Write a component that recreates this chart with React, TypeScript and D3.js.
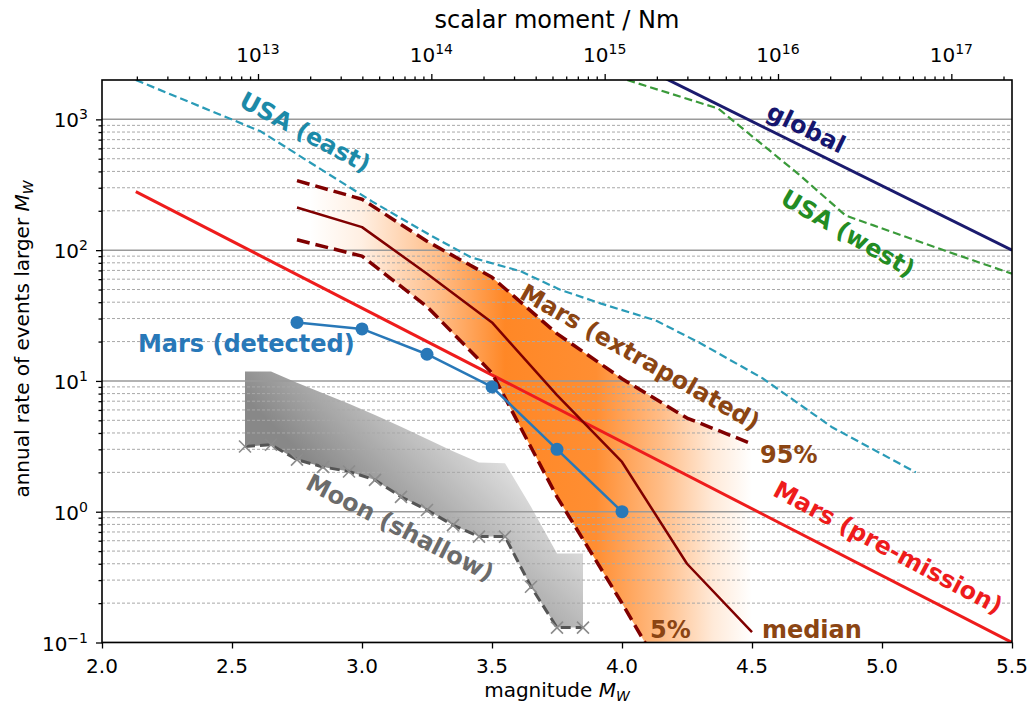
import React, { useEffect, useRef } from 'react';
import * as d3 from 'd3';

// Mars extrapolation (median and 5 / 95 % bounds)
const marsMags = [2.75, 3.0, 3.25, 3.5, 3.75, 4.0, 4.25, 4.5];
const marsMedian = [212, 150, 66, 28, 7.8, 2.4, 0.4, 0.12];
const mars95 = [340, 245, 117, 62, 23, 10.4, 5.2, 3.3];
const mars5 = [120, 90, 37, 11.5, 1.3, 0.2, 0.028, 0.0036];

// detected Mars events
const detectedMags = [2.75, 3.0, 3.25, 3.5, 3.75, 4.0];
const detectedRates = [28, 25, 16, 9, 3, 1];

// pre-mission estimate
const premissionMags = [2.13, 5.5];
const premissionRates = [280, 0.1];

// Earth
const globalMags = [4.0, 5.5];
const globalRates = [3000, 100];
const usaEastMags = [2.13, 2.61, 3.04, 3.26, 3.42, 3.61, 3.76, 3.92, 4.13, 4.3, 4.54, 4.81, 5.13];
const usaEastRates = [2000, 810, 235, 131, 88, 69, 50, 39, 29, 19.5, 10.5, 4.4, 2.0];
const usaWestMags = [4.02, 4.37, 4.52, 4.68, 4.86, 4.97, 5.23, 5.5];
const usaWestRates = [2000, 1210, 690, 380, 184, 154, 101, 66];

// Moon (shallow)
const moonMags = [2.55, 2.65, 2.75, 2.85, 2.95, 3.05, 3.15, 3.25, 3.35, 3.45, 3.55, 3.65, 3.75, 3.85];
const moonRates = [3.15, 3.25, 2.5, 2.2, 2.03, 1.75, 1.3, 1.03, 0.79, 0.645, 0.645, 0.267, 0.13, 0.13];
const moonUpper = [11.8, 11.8, 9.7, 8.05, 6.7, 5.5, 4.47, 3.6, 2.9, 2.38, 2.35, 1.09, 0.48, 0.48];

// axes
const xTicks = [2.0, 2.5, 3.0, 3.5, 4.0, 4.5, 5.0, 5.5];
const yMajor = [0.1, 1, 10, 100, 1000];
const yExponents = ['\u22121', '0', '1', '2', '3'];
const topExponents = [13, 14, 15, 16, 17];

const W = 1029;
const H = 706;
const FONT = 'DejaVu Sans';

export default function App() {
  const ref = useRef<SVGSVGElement>(null);

  useEffect(() => {
    const svg = d3.select(ref.current);
    svg.selectAll('*').remove();

    const left = 102, right = 1012, top = 80, bottom = 642.5;

    const x = d3.scaleLinear().domain([2, 5.5]).range([left, right]);
    const y = d3.scaleLog().domain([0.1, 2000]).range([bottom, top]);
    // scalar moment M0 = 10^(1.5 Mw + 9.1)
    const m0 = (mw: number) => Math.pow(10, 1.5 * mw + 9.1);
    const xTop = d3.scaleLog().domain([m0(2), m0(5.5)]).range([left, right]);

    const defs = svg.append('defs');
    defs.append('clipPath').attr('id', 'plot')
      .append('rect').attr('x', left).attr('y', top)
      .attr('width', right - left).attr('height', bottom - top);

    // orange gradient for the extrapolation band
    const og = defs.append('linearGradient').attr('id', 'orange')
      .attr('gradientUnits', 'userSpaceOnUse')
      .attr('x1', x(2.75)).attr('x2', x(4.5)).attr('y1', 0).attr('y2', 0);
    const oStops: [number, number][] = [
      [2.8, 0], [3.0, 0.12], [3.3, 0.5], [3.55, 0.9], [3.9, 0.85],
      [4.15, 0.5], [4.35, 0.16], [4.5, 0],
    ];
    oStops.forEach(([m, o]) => {
      og.append('stop').attr('offset', (m - 2.75) / 1.75)
        .attr('stop-color', '#ff7a0e').attr('stop-opacity', o);
    });

    const gg = defs.append('linearGradient').attr('id', 'grey')
      .attr('gradientUnits', 'userSpaceOnUse')
      .attr('x1', x(2.75)).attr('y1', y(0.43))
      .attr('x2', x(3.45)).attr('y2', y(10));
    gg.append('stop').attr('offset', 0.3).attr('stop-color', '#888888');
    gg.append('stop').attr('offset', 0.95).attr('stop-color', '#eeeeee');

    const plot = svg.append('g').attr('clip-path', 'url(#plot)');

    // fills
    const moonArea = d3.area<number>()
      .x((d, i) => x(moonMags[i]))
      .y0(d => y(d))
      .y1((d, i) => y(moonUpper[i]));
    plot.append('path').attr('d', moonArea(moonRates)).attr('fill', 'url(#grey)');

    const band = d3.area<number>()
      .x((d, i) => x(marsMags[i]))
      .y0(d => y(d))
      .y1((d, i) => y(mars95[i]));
    plot.append('path').attr('d', band(mars5)).attr('fill', 'url(#orange)');

    // horizontal grid
    const minor: number[] = [];
    for (let e = -1; e <= 3; e++) {
      for (let k = 2; k <= 9; k++) {
        const v = k * Math.pow(10, e);
        if (v < 2000) minor.push(v);
      }
    }
    plot.selectAll('.gmin').data(minor).enter().append('line')
      .attr('x1', left).attr('x2', right)
      .attr('y1', d => y(d)).attr('y2', d => y(d))
      .attr('stroke', '#a8a8a8').attr('stroke-width', 1)
      .attr('stroke-dasharray', '3,2');
    plot.selectAll('.gmaj').data(yMajor).enter().append('line')
      .attr('x1', left).attr('x2', right)
      .attr('y1', d => y(d)).attr('y2', d => y(d))
      .attr('stroke', '#9a9a9a').attr('stroke-width', 1.5);

    const line = (mags: number[]) => d3.line<number>()
      .x((d, i) => x(mags[i]))
      .y(d => y(d));

    const addLine = (mags: number[], vals: number[], color: string, width: number, dash?: string) => {
      const p = plot.append('path').attr('d', line(mags)(vals))
        .attr('fill', 'none').attr('stroke', color).attr('stroke-width', width)
        .attr('stroke-linejoin', 'round');
      if (dash) p.attr('stroke-dasharray', dash);
      return p;
    };

    addLine(usaEastMags, usaEastRates, '#2a9bb7', 2.2, '8,4');
    addLine(usaWestMags, usaWestRates, '#3a9a3a', 2.2, '8,4');
    addLine(globalMags, globalRates, '#1b1b6e', 3);
    addLine(premissionMags, premissionRates, '#ee1c1c', 3);
    addLine(marsMags, marsMedian, '#800000', 2.5);
    addLine(marsMags, mars95, '#800000', 3.5, '13,6');
    addLine(marsMags, mars5, '#800000', 3.5, '13,6');

    // moon lower line with x markers
    addLine(moonMags, moonRates, '#555555', 3, '10,5');
    const mk = plot.selectAll('.mk').data(moonRates).enter().append('g')
      .attr('transform', (d, i) => `translate(${x(moonMags[i])},${y(d)})`);
    mk.append('path').attr('d', 'M-6,-6L6,6M-6,6L6,-6')
      .attr('stroke', '#8c8c8c').attr('stroke-width', 1.6);

    addLine(detectedMags, detectedRates, '#2878b8', 2.5);
    plot.selectAll('.det').data(detectedRates).enter().append('circle')
      .attr('cx', (d, i) => x(detectedMags[i])).attr('cy', d => y(d))
      .attr('r', 6.5).attr('fill', '#2878b8');

    // frame
    svg.append('rect').attr('x', left).attr('y', top)
      .attr('width', right - left).attr('height', bottom - top)
      .attr('fill', 'none').attr('stroke', '#000').attr('stroke-width', 1.6);

    // bottom axis
    const xAxisGroup = svg.append('g').attr('transform', `translate(0,${bottom})`);
    xAxisGroup.call(d3.axisBottom(x).tickValues(xTicks).tickSize(6).tickFormat(() => ''));
    xAxisGroup.select('.domain').remove();
    svg.selectAll('.xlab').data(xTicks).enter().append('text')
      .attr('x', d => x(d)).attr('y', bottom + 30.5)
      .attr('text-anchor', 'middle').attr('font-family', FONT).attr('font-size', 20)
      .text(d => d3.format('.1f')(d));

    // left axis
    const yAxisGroup = svg.append('g').attr('transform', `translate(${left},0)`);
    yAxisGroup.call(d3.axisLeft(y).tickValues(yMajor).tickSize(6).tickFormat(() => ''));
    yAxisGroup.select('.domain').remove();
    const yMinorGroup = svg.append('g').attr('transform', `translate(${left},0)`);
    yMinorGroup.call(d3.axisLeft(y).tickValues(minor).tickSize(3.5).tickFormat(() => ''));
    yMinorGroup.select('.domain').remove();

    const ylab = svg.selectAll('.ylab').data(yMajor).enter().append('text')
      .attr('x', left - 14).attr('y', d => y(d) + 8)
      .attr('text-anchor', 'end').attr('font-family', FONT).attr('font-size', 20);
    ylab.append('tspan').text('10');
    ylab.append('tspan').attr('dy', -8).attr('font-size', 14).text((d, i) => yExponents[i]);

    // top axis (scalar moment)
    const topMajor = topExponents.map(e => Math.pow(10, e));
    const topMinor: number[] = [];
    for (let e = 12; e <= 17; e++) {
      for (let k = 2; k <= 9; k++) {
        const v = k * Math.pow(10, e);
        if (v >= m0(2) && v <= m0(5.5)) topMinor.push(v);
      }
    }
    const topGroup = svg.append('g').attr('transform', `translate(0,${top})`);
    topGroup.call(d3.axisTop(xTop).tickValues(topMajor).tickSize(6).tickFormat(() => ''));
    topGroup.select('.domain').remove();
    const topMinorGroup = svg.append('g').attr('transform', `translate(0,${top})`);
    topMinorGroup.call(d3.axisTop(xTop).tickValues(topMinor).tickSize(3.5).tickFormat(() => ''));
    topMinorGroup.select('.domain').remove();
    svg.selectAll('.tick line').attr('stroke-width', 1.3);

    const tlab = svg.selectAll('.tlab').data(topMajor).enter().append('text')
      .attr('x', d => xTop(d)).attr('y', top - 18.5)
      .attr('text-anchor', 'middle').attr('font-family', FONT).attr('font-size', 20);
    tlab.append('tspan').text('10');
    tlab.append('tspan').attr('dy', -8).attr('font-size', 14).text((d, i) => String(topExponents[i]));

    // axis titles
    svg.append('text').attr('x', (left + right) / 2).attr('y', 28)
      .attr('text-anchor', 'middle').attr('font-family', FONT).attr('font-size', 24)
      .text('scalar moment / Nm');

    const xt = svg.append('text').attr('x', (left + right) / 2).attr('y', 697)
      .attr('text-anchor', 'middle').attr('font-family', FONT).attr('font-size', 20);
    xt.append('tspan').text('magnitude ');
    xt.append('tspan').attr('font-style', 'italic').text('M');
    xt.append('tspan').attr('font-style', 'italic').attr('font-size', 14).attr('dy', 4).text('W');

    const yt = svg.append('text').attr('transform', 'translate(29,339) rotate(-90)')
      .attr('text-anchor', 'middle').attr('font-family', FONT).attr('font-size', 20);
    yt.append('tspan').text('annual rate of events larger ');
    yt.append('tspan').attr('font-style', 'italic').text('M');
    yt.append('tspan').attr('font-style', 'italic').attr('font-size', 14).attr('dy', 4).text('W');

    // annotations
    const note = (label: string, mw: number, rate: number, color: string, angle: number, anchor = 'middle') => {
      const px = x(mw), py = y(rate);
      svg.append('text')
        .attr('x', px).attr('y', py)
        .attr('transform', `rotate(${angle},${px},${py})`)
        .attr('text-anchor', anchor)
        .attr('dominant-baseline', angle === 0 ? 'alphabetic' : 'central')
        .attr('font-family', FONT).attr('font-weight', 'bold').attr('font-size', 24)
        .attr('fill', color).text(label);
    };
    note('USA (east)', 2.781, 795, '#1c8aa8', 28);
    note('global', 4.708, 853, '#16166e', 26);
    note('USA (west)', 4.869, 134, '#238c23', 30);
    note('Mars (extrapolated)', 4.069, 15.1, '#8b4513', 29.5);
    note('95%', 4.531, 2.37, '#8b4513', 0, 'start');
    note('5%', 4.108, 0.108, '#8b4513', 0, 'start');
    note('median', 4.538, 0.108, '#8b4513', 0, 'start');
    note('Mars (detected)', 2.138, 16.7, '#2878b8', 0, 'start');
    note('Mars (pre-mission)', 5.023, 0.528, '#ee1c1c', 28);
    note('Moon (shallow)', 3.146, 0.752, '#6b6b6b', 27);
  }, []);

  return (
    <svg ref={ref} width={W} height={H}
      style={{ position: 'absolute', left: 0, top: 0, background: '#fff' }} />
  );
}
